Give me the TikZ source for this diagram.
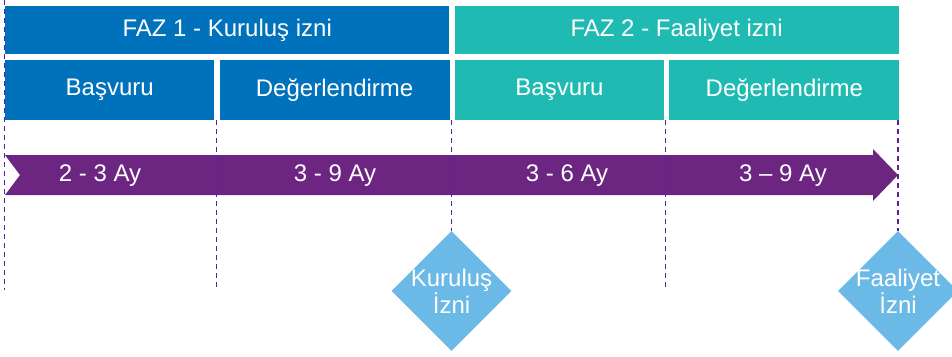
\documentclass[tikz,border=0pt]{standalone}
\usepackage{fontspec}
\setmainfont{Liberation Sans}
\usetikzlibrary{shapes.geometric}
\usetikzlibrary{positioning}
\definecolor{fazblue}{RGB}{0,113,187}
\definecolor{faztea}{RGB}{31,187,179}
\definecolor{timepurple}{RGB}{108,38,130}
\definecolor{gatesky}{RGB}{107,185,230}
\tikzset{every node/.style={text=white,font=\fontsize{24}{24}\selectfont},
         phase/.style={minimum height=48pt,inner sep=0pt,minimum width=444pt},
         stage/.style={minimum height=60pt,inner sep=0pt},
         guide/.style={draw=timepurple!85!blue,line width=1.3pt,dash pattern=on 5pt off 4pt},
         gate/.style={diamond,aspect=1,fill=gatesky,minimum width=120pt,minimum height=120pt,inner sep=-4pt,align=center},
         span/.style={inner sep=0pt},
         }
\begin{document}
\begin{tikzpicture}[x=1pt,y=-1pt]
		\useasboundingbox (0,0) rectangle (952,356);
		% phases
		\node[phase,fill=fazblue,anchor=north west] (faz1) at (5,6) {FAZ 1 - Kuruluş izni};
		\node[phase,fill=faztea,right=5pt of faz1] (faz2) {FAZ 2 - Faaliyet izni};
		% stages
		\node[stage,fill=fazblue,minimum width=209pt,anchor=north west] (bas1) at (5,60) {Başvuru};
		\node[stage,fill=fazblue,minimum width=230pt,right=5pt of bas1] (deg1) {Değerlendirme};
		\node[stage,fill=faztea,minimum width=209pt,right=5pt of deg1] (bas2) {Başvuru};
		\node[stage,fill=faztea,minimum width=230pt,right=5pt of bas2] (deg2) {Değerlendirme};
		% time line
		\fill[timepurple] (5,155) -- (873,155) -- (873,149) -- (898,175) -- (873,201)
		  -- (873,195) -- (5,195) -- (20,175) -- cycle;
		% milestones
		\node[gate] (kurulus) at (451.5,291) {Kuruluş\\İzni};
		\node[gate] (faaliyet) at (898,291) {Faaliyet\\İzni};
		% guides
		\coordinate (t0) at (4.5,0);
		\coordinate (e0) at (4.5,290);
		\coordinate (t1) at (216.5,120);
		\coordinate (e1) at (216.5,290);
		\coordinate (t2) at (451.5,120);
		\coordinate (t3) at (665.5,120);
		\coordinate (e3) at (665.5,290);
		\coordinate (t4) at (898,120);
		\draw[guide] (t0) -- (e0);
		\draw[guide] (t1) -- (e1);
		\draw[guide] (t2) -- (kurulus.north);
		\draw[guide] (t3) -- (e3);
		\draw[guide] (t4) -- (faaliyet.north);
		% durations
		\node[span] (d1) at (100,176) {2 - 3 Ay};
		\node[span] (d2) at (335,176) {3 - 9 Ay};
		\node[span] (d3) at (567,176) {3 - 6 Ay};
		\node[span] (d4) at (783,176) {3 – 9 Ay};
\end{tikzpicture}
\end{document}
